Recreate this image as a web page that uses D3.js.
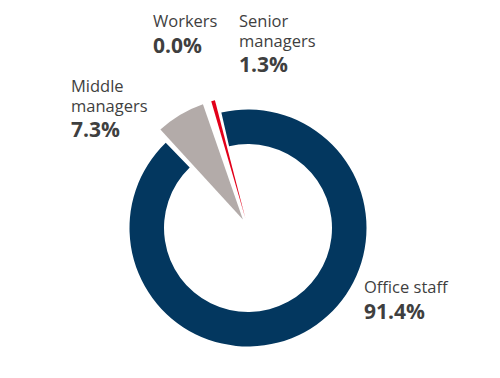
<!DOCTYPE html>
<html><head><meta charset="utf-8">
<script src="https://cdn.jsdelivr.net/npm/d3@7"></script>
<style>body{margin:0;background:#fff} svg{display:block}</style>
</head><body>
<script>
// ---- data ----
const categories = ["Office staff", "Middle managers", "Workers", "Senior managers"];
const nameLines = [["Office staff"], ["Middle", "managers"], ["Workers"], ["Senior", "managers"]];
const values = [91.4, 7.3, 0.0, 1.3];
const valueLabels = ["91.4%", "7.3%", "0.0%", "1.3%"];
const colors = ["#03375f", "#b3aba9", "#ffffff", "#e2001a"];

// ---- layout ----
const W = 500, H = 378, cx = 248, cy = 228;
const deg = Math.PI / 180;
const labelPos = [
  {x: 364, y: 293}, {x: 71, y: 92}, {x: 153, y: 27}, {x: 239, y: 27}
];
const exploded = [false, true, true, true];

const svg = d3.select("body").append("svg").attr("width", W).attr("height", H);
const g = svg.append("g").attr("transform", `translate(${cx},${cy})`);

const pie = d3.pie().sort(null).value(d => d.v)
  .startAngle(-13 * deg).endAngle(347 * deg);
const data = categories.map((c, i) => ({c, v: values[i], i}));
const arcs = pie(data);

const ring = d3.arc().innerRadius(84).outerRadius(118.5);
const wedge = d3.arc().innerRadius(0).outerRadius(122).padAngle(0.05);
const explodeDist = 10;

arcs.forEach(a => {
  if (a.data.v <= 0) return;
  if (!exploded[a.data.i]) {
    g.append("path").attr("d", ring(a)).attr("fill", colors[a.data.i]);
  } else {
    const mid = (a.startAngle + a.endAngle) / 2;
    const dx = explodeDist * Math.sin(mid), dy = -explodeDist * Math.cos(mid);
    g.append("path").attr("d", wedge(a)).attr("fill", colors[a.data.i])
      .attr("transform", `translate(${dx},${dy})`);
  }
});

// ---- labels ----
const font = "'Open Sans', sans-serif";
categories.forEach((c, i) => {
  const p = labelPos[i];
  const t = svg.append("text").attr("x", p.x).attr("y", p.y)
    .attr("font-family", font).attr("fill", "#3f3f3f");
  nameLines[i].forEach((ln, j) => {
    t.append("tspan").attr("x", p.x).attr("dy", j === 0 ? 0 : 19.5)
      .attr("font-size", 16.5).text(ln);
  });
  t.append("tspan").attr("x", p.x).attr("dy", 25.5)
    .attr("font-size", 21).attr("font-weight", "bold").text(valueLabels[i]);
});
</script>
</body></html>
